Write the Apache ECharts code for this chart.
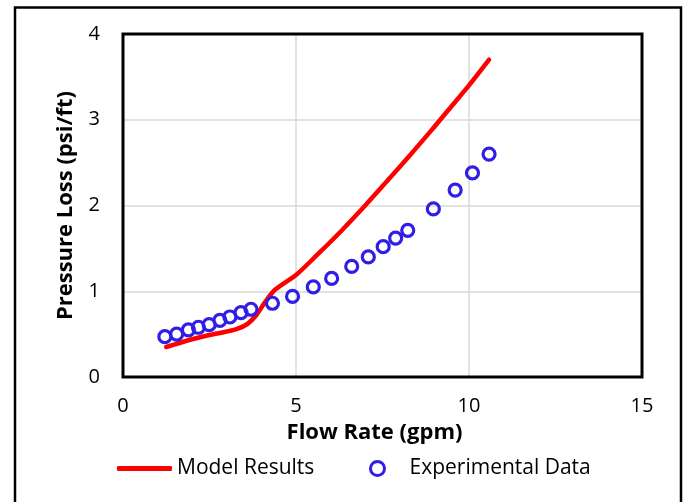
<!DOCTYPE html>
<html>
<head>
<meta charset="utf-8">
<script src="https://cdn.jsdelivr.net/npm/echarts@6/dist/echarts.min.js"></script>
<style>
html,body{margin:0;padding:0;background:#fff;}
#chart{width:687px;height:502px;}
</style>
</head>
<body>
<div id="chart"></div>
<script>
// Model Results (line)
const modelX = [1.25, 1.5, 2.0, 2.5, 3.0, 3.3, 3.6, 3.85, 4.1, 4.4, 5.0, 5.6, 6.3, 7.0, 7.6, 8.3, 8.9, 9.5, 10.0, 10.58];
const modelY = [0.35, 0.38, 0.44, 0.49, 0.53, 0.56, 0.62, 0.72, 0.87, 1.02, 1.19, 1.42, 1.70, 2.00, 2.27, 2.59, 2.87, 3.16, 3.40, 3.70];
// Experimental Data (scatter)
const expX = [1.21, 1.55, 1.89, 2.18, 2.49, 2.80, 3.09, 3.41, 3.70, 4.32, 4.90, 5.50, 6.03, 6.61, 7.09, 7.52, 7.88, 8.23, 8.97, 9.60, 10.10, 10.58];
const expY = [0.47, 0.50, 0.55, 0.58, 0.61, 0.66, 0.70, 0.75, 0.79, 0.86, 0.94, 1.05, 1.15, 1.29, 1.40, 1.52, 1.62, 1.71, 1.96, 2.18, 2.38, 2.60];
const xTicks = [0, 5, 10, 15];
const yTicks = [0, 1, 2, 3, 4];

const modelData = modelX.map((x, i) => [x, modelY[i]]);
const expData = expX.map((x, i) => [x, expY[i]]);
const blue = '#2F1FE6';
const font = 'Open Sans';

const chart = echarts.init(document.getElementById('chart'));
chart.setOption({
  backgroundColor: '#fff',
  animation: false,
  textStyle: { fontFamily: font },
  graphic: [{
    type: 'rect',
    shape: { x: 15, y: 7.5, width: 666, height: 520 },
    style: { fill: 'none', stroke: '#000', lineWidth: 2.5 },
    z: 100
  }, {
    type: 'rect',
    shape: { x: 123, y: 34, width: 519, height: 343 },
    style: { fill: 'none', stroke: '#000', lineWidth: 3 },
    z: 100
  }],
  grid: {
    left: 123, top: 34, right: 45, bottom: 125,
    show: false
  },
  xAxis: {
    type: 'value', min: xTicks[0], max: xTicks[xTicks.length - 1], interval: 5,
    name: 'Flow Rate (gpm)', nameLocation: 'middle', nameGap: 45,
    nameTextStyle: { fontFamily: font, fontWeight: 'bold', fontSize: 22, color: '#000', padding: [0, 16, 0, 0] },
    axisLine: { show: false }, axisTick: { show: false },
    axisLabel: { fontFamily: font, fontSize: 20, color: '#000', margin: 19 },
    splitLine: { show: true, lineStyle: { color: '#D9D9D9', width: 1.5 } }
  },
  yAxis: {
    type: 'value', min: yTicks[0], max: yTicks[yTicks.length - 1], interval: 1,
    name: 'Pressure Loss (psi/ft)', nameLocation: 'middle', nameGap: 46,
    nameTextStyle: { fontFamily: font, fontWeight: 'bold', fontSize: 22, color: '#000' },
    axisLine: { show: false }, axisTick: { show: false },
    axisLabel: { fontFamily: font, fontSize: 20, color: '#000', margin: 23 },
    splitLine: { show: true, lineStyle: { color: '#D9D9D9', width: 1.5 } }
  },
  legend: [{
    left: 117, top: 458, padding: 0, itemWidth: 55, itemHeight: 5, itemGap: 5,
    textStyle: { fontFamily: font, fontSize: 21, color: '#000' },
    data: [{ name: 'Model Results', icon: 'roundRect', itemStyle: { color: '#FF0000' } }]
  }, {
    left: 369, top: 458, padding: 0, itemWidth: 14, itemHeight: 14,
    textStyle: { fontFamily: font, fontSize: 21, color: '#000', padding: [0, 0, 0, 20] },
    data: [{ name: 'Experimental Data', icon: 'circle', itemStyle: { color: '#fff', borderColor: blue, borderWidth: 3, opacity: 1 } }]
  }],
  series: [{
    name: 'Model Results', type: 'line', data: modelData, smooth: 0.3,
    showSymbol: false, symbol: 'none',
    lineStyle: { color: '#FF0000', width: 4.5, cap: 'round' },
    itemStyle: { color: '#FF0000' }, z: 2
  }, {
    name: 'Experimental Data', type: 'scatter', data: expData,
    symbol: 'circle', symbolSize: 12,
    itemStyle: { color: 'rgba(255,255,255,0)', borderColor: blue, borderWidth: 3.2, opacity: 1 }, z: 3
  }]
});
</script>
</body>
</html>
